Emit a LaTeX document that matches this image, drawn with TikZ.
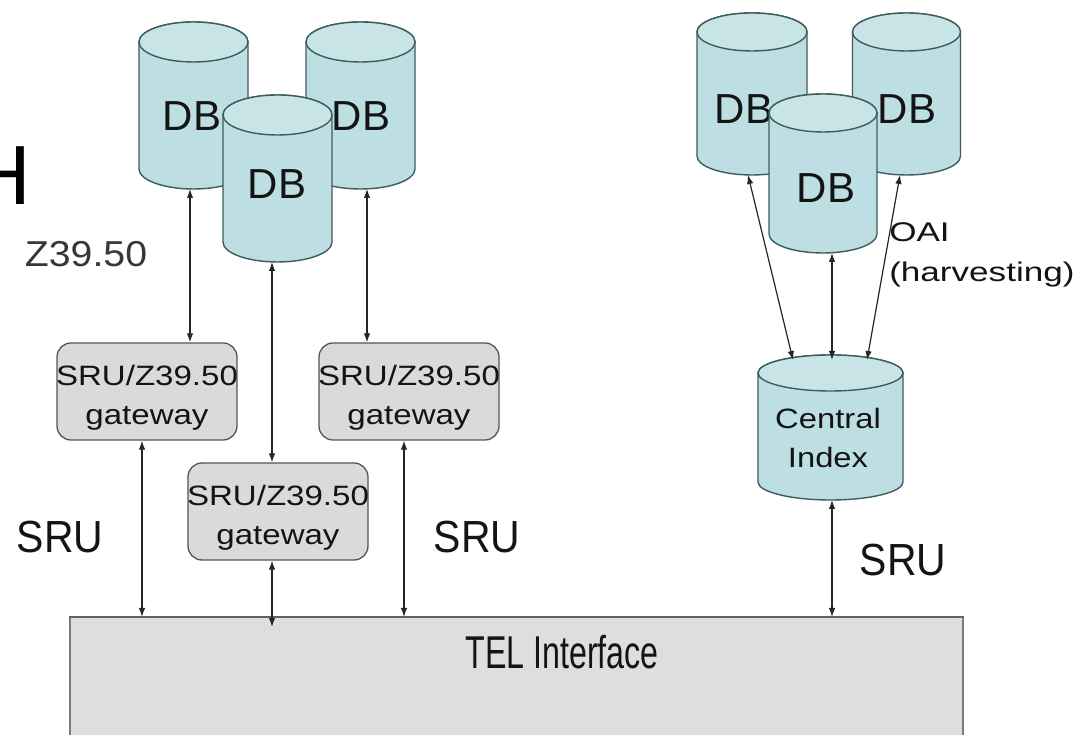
\documentclass[tikz,border=0pt]{standalone}
\usepackage{fontspec}
\setmainfont{Liberation Sans}
\usepackage{graphicx}
\usetikzlibrary{arrows.meta,calc}
\definecolor{cylfill}{HTML}{BDDFE3}
\definecolor{cyltopc}{HTML}{C8E4E7}
\definecolor{cylline}{HTML}{3F5C5C}
\definecolor{gwfill}{HTML}{DADADA}
\definecolor{gwline}{HTML}{555555}
\definecolor{telfill}{HTML}{DEDEDE}
\definecolor{telline}{HTML}{7A7A7A}
\definecolor{ink}{HTML}{141414}
\definecolor{arrowc}{HTML}{262626}
\newcommand\wide[2]{\scalebox{#1}[1]{#2}}
% name, cx, top(py), bottom(py), rx, ry
\newcommand\dbcyl[6]{%
  \filldraw[cylbody] ({#2-#5},{735-#3-#6}) -- ({#2-#5},{735-#4+#6})
    arc[start angle=180,end angle=360,x radius=#5,y radius=#6]
    -- ({#2+#5},{735-#3-#6})
    arc[start angle=0,end angle=180,x radius=#5,y radius=#6] -- cycle;
  \filldraw[cyltop] (#2,{735-#3-#6}) ellipse[x radius=#5,y radius=#6];
  \node[cylnode,minimum width={2*#5},minimum height={#4-#3}] (#1) at (#2,{735-(#3+#4)/2}) {};
}
\begin{document}
\begin{tikzpicture}[x=1pt,y=1pt,
  cylbody/.style={fill=cylfill,draw=cylline,line width=1.4pt},
  cyltop/.style={fill=cyltopc,draw=cylline,line width=1.4pt},
  cylnode/.style={inner sep=0pt,outer sep=0pt,draw=none},
  dbtext/.style={inner sep=0pt,text=ink,font=\fontsize{42}{48}\selectfont},
  gw/.style={draw=gwline,fill=gwfill,line width=1.3pt,rounded corners=14pt,
    minimum width=180pt,minimum height=97pt,inner sep=0pt,align=center,
    text=ink,font=\fontsize{28}{39}\selectfont},
  citext/.style={inner sep=0pt,align=center,text=ink,font=\fontsize{28}{39}\selectfont},
  srutext/.style={inner sep=0pt,text=ink,xscale=0.91,font=\fontsize{45}{50}\selectfont},
  ztext/.style={inner sep=0pt,text=ink!85,xscale=1.09,font=\fontsize{36}{40}\selectfont},
  oaitext/.style={inner sep=0pt,align=left,text=ink,xscale=1.3,font=\fontsize{27}{40}\selectfont},
  telbox/.style={fill=telfill,draw=telline,line width=1.2pt,inner sep=0pt},
  teltext/.style={inner sep=0pt,text=ink,xscale=0.7,font=\fontsize{46}{50}\selectfont},
  dbl/.style={draw=arrowc,line width=1.2pt,{Latex[length=9pt,width=6.5pt]}-{Latex[length=9pt,width=6.5pt]}}
]
\useasboundingbox (0,0) rectangle (1086,735);
\clip (0,0) rectangle (1086,735);
\fill[white] (0,0) rectangle (1086,735);

% cut-off letter at the left edge (as in the reference)
\node[anchor=base west,inner sep=0pt,text=black,font=\fontsize{84}{90}\selectfont] (hletter) at (-30,{735-205}) {H};

% ---------- left cluster ----------
\dbcyl{L1}{193.5}{22}{189}{54.5}{20}
\dbcyl{L3}{360.5}{22}{189}{54.5}{20}
\node[dbtext] (L1t) at (192,{735-116}) {DB};
\node[dbtext] (L3t) at (361,{735-116}) {DB};
\dbcyl{L2}{277.5}{95}{262}{54.5}{20}
\node[dbtext] (L2t) at (277,{735-184}) {DB};

\node[ztext] (z39) at (86,{735-254}) {Z39.50};

\node[gw] (G1) at (147,{735-391.5}) {\rule{0pt}{32pt}\makebox[0pt]{\wide{1.18}{SRU/Z39.50}}\\\wide{1.18}{gateway}};
\node[gw] (G2) at (409,{735-391.5}) {\rule{0pt}{32pt}\makebox[0pt]{\wide{1.18}{SRU/Z39.50}}\\\wide{1.18}{gateway}};
\node[gw] (G3) at (278,{735-511.5}) {\rule{0pt}{32pt}\makebox[0pt]{\wide{1.18}{SRU/Z39.50}}\\\wide{1.18}{gateway}};

% ---------- TEL interface ----------
\node[telbox,minimum width=893pt,minimum height=160pt,anchor=north] (tel) at (516.5,{735-617}) {};
\draw[draw=telline!80!black,line width=2.2pt] (tel.north west) -- (tel.north east);
\node[teltext] (teltitle) at (562,{735-652}) {TEL Interface};

\node[srutext] (sru1) at (60,{735-537}) {SRU};
\node[srutext] (sru2) at (477,{735-537}) {SRU};

% ---------- right cluster ----------
\dbcyl{R1}{752}{13}{175}{55}{19}
\dbcyl{R3}{906.5}{13}{175}{54}{19}
\node[dbtext] (R1t) at (744,{735-109}) {DB};
\node[dbtext] (R3t) at (907,{735-109}) {DB};
\dbcyl{R2}{823}{94}{253}{54}{19}
\node[dbtext] (R2t) at (826,{735-188}) {DB};

\dbcyl{CI}{830.5}{355}{500}{72.5}{18}
\node[citext] (CIt) at (828,{735-437.5}) {\wide{1.17}{Central}\\\wide{1.17}{Index}};

\node[oaitext,anchor=north west] (oai) at (889,{735-222}) {OAI\\(harvesting)};
\node[srutext] (sru3) at (903,{735-560}) {SRU};

% ---------- connectors ----------
\draw[dbl] ([xshift=-3.5pt]L1.south) -- ([xshift=43pt]G1.north);
\draw[dbl] ([xshift=-5.5pt]L2.south) -- ([xshift=-6pt]G3.north);
\draw[dbl] ([xshift=6.5pt]L3.south) -- ([xshift=-42pt]G2.north);
\draw[dbl] ([xshift=-5pt]G1.south) -- ([xshift=-5pt]G1.south |- tel.north);
\draw[dbl] ([xshift=-6pt]G3.south) -- ([xshift=-6pt,yshift=-10pt]G3.south |- tel.north);
\draw[dbl] ([xshift=-5pt]G2.south) -- ([xshift=-5pt]G2.south |- tel.north);

\draw[dbl] ([xshift=-4pt]R1.south) -- ([xshift=-37.5pt,yshift=-5pt]CI.north);
\draw[dbl] ([xshift=9pt]R2.south) -- ([xshift=1.5pt,yshift=-5pt]CI.north);
\draw[dbl] ([xshift=-6.5pt]R3.south) -- ([xshift=36.5pt,yshift=-5pt]CI.north);
\draw[dbl] ([xshift=1.5pt]CI.south) -- ([xshift=1.5pt]CI.south |- tel.north);
\end{tikzpicture}
\end{document}
